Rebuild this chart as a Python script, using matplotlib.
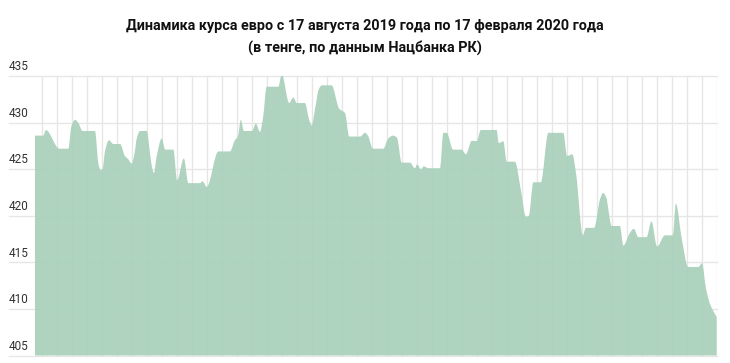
import numpy as np
import matplotlib
matplotlib.use("Agg")
import matplotlib.pyplot as plt
from matplotlib.path import Path
from matplotlib.patches import PathPatch
from matplotlib.transforms import blended_transform_factory

plt.rcParams['font.family'] = ['Roboto', 'DejaVu Sans']

title_lines = ["Динамика курса евро с 17 августа 2019 года по 17 февраля 2020 года",
               "(в тенге, по данным Нацбанка РК)"]

# day offset from 17 Aug 2019 (chart units) and EUR/KZT rate
day = [0, 2.2, 2.9, 6.5, 8.9, 9.7, 10.7, 11.5, 12.7, 16.0, 16.9, 17.5, 18.0, 18.7, 19.7,
       20.9, 22.7, 24.0, 24.8, 25.8, 26.5, 27.2, 28.0, 29.8, 30.5, 31.2, 31.7, 32.5, 33.8,
       34.7, 36.9, 37.9, 39.7, 40.9, 44.0, 44.7, 45.8, 48.9, 52.0, 53.3, 54.1, 54.9, 55.7,
       57.9, 58.9, 60.0, 60.8, 61.8, 64.9, 65.8, 67.8, 68.9, 69.8, 72.0, 73.1, 73.8, 74.7,
       75.7, 76.5, 79.1, 81.1, 82.7, 83.8, 86.7, 88.0, 88.8, 90.1, 92.9, 94.2, 95.5, 96.5,
       97.8, 100.0, 101.3, 101.9, 102.9, 103.7, 104.9, 108.0, 108.9, 109.8, 111.5, 113.8,
       114.9, 116.5, 117.8, 118.9, 123.1, 123.7, 124.9, 125.8, 128.0, 129.6, 130.9, 131.7,
       132.9, 134.9, 136.9, 140.9, 141.9, 143.3, 144.3, 146.1, 146.9, 149.1, 150.7, 151.5,
       152.3, 153.8, 156.0, 156.9, 158.7, 159.7, 160.9, 163.1, 164.4, 165.9, 168.0, 170.1,
       170.9, 172.5, 174.2, 176.9, 177.9, 178.9, 180.0, 181.8]
rate = [428.6, 428.6, 429.2, 427.2, 427.2, 429.6, 430.3, 430.0, 429.1, 429.1, 425.6, 424.9,
        425.0, 427.0, 428.1, 427.7, 427.7, 426.4, 426.1, 425.6, 426.6, 428.4, 429.1, 429.1,
        427.3, 425.2, 424.6, 426.5, 428.3, 427.1, 427.1, 423.8, 426.15, 423.5, 423.5, 423.7,
        423.1, 426.9, 426.9, 428.1, 428.5, 430.3, 429.1, 429.1, 429.9, 429.0, 430.5, 433.85,
        433.85, 435.2, 432.1, 432.7, 432.1, 432.1, 430.3, 429.7, 431.5, 433.6, 434.0, 434.0,
        431.5, 431.0, 428.5, 428.5, 428.9, 428.6, 427.2, 427.2, 428.3, 428.6, 428.4, 425.7,
        425.7, 425.1, 425.5, 425.0, 425.3, 425.1, 425.1, 428.9, 428.9, 427.1, 427.1, 426.6,
        428.05, 428.0, 429.2, 429.2, 427.8, 428.0, 425.8, 425.8, 422.7, 419.9, 420.0, 423.6,
        423.6, 428.9, 428.9, 426.4, 426.6, 424.5, 417.9, 418.7, 418.7, 421.8, 422.45, 422.0,
        418.9, 418.9, 416.8, 418.2, 418.6, 417.7, 417.7, 419.4, 416.7, 417.9, 417.9, 421.3,
        417.5, 414.5, 414.5, 414.9, 412.3, 410.55, 409.1]
y_ticks = [405, 410, 415, 420, 425, 430, 435]

x = np.array(day, dtype=float)
y = np.array(rate, dtype=float)
ymin, ymax = y_ticks[0], y_ticks[-1]

# monotone cubic (Fritsch-Carlson) tangents for smooth rendering of the line
h = np.diff(x)
d = np.diff(y) / h
m = np.zeros_like(y)
m[0], m[-1] = d[0], d[-1]
for i in range(1, len(y) - 1):
    if d[i - 1] * d[i] <= 0:
        m[i] = 0.0
    else:
        w1 = 2 * h[i] + h[i - 1]
        w2 = h[i] + 2 * h[i - 1]
        m[i] = (w1 + w2) / (w1 / d[i - 1] + w2 / d[i])

verts = [(x[0], ymin), (x[0], y[0])]
codes = [Path.MOVETO, Path.LINETO]
for i in range(len(x) - 1):
    verts += [(x[i] + h[i] / 3, y[i] + m[i] * h[i] / 3),
              (x[i + 1] - h[i] / 3, y[i + 1] - m[i + 1] * h[i] / 3),
              (x[i + 1], y[i + 1])]
    codes += [Path.CURVE4] * 3
verts += [(x[-1], ymin), (x[0], ymin)]
codes += [Path.LINETO, Path.CLOSEPOLY]

fig = plt.figure(figsize=(7.3, 3.63), dpi=100)
ax = fig.add_axes([35 / 730, 1 - 355.5 / 363, 681.7 / 730, (355.5 - 76) / 363])
ax.set_xlim(x[0], x[-1])
ax.set_ylim(ymin, ymax)
for s in ax.spines.values():
    s.set_visible(False)
ax.set_xticks([])
ax.set_yticks([])

ax.add_patch(PathPatch(Path(verts, codes), facecolor=(0.651, 0.812, 0.722, 0.9),
                       edgecolor='none', zorder=3))

grid_col = '#e6e6e6'
for gx in np.arange(x[-1], x[0], -4.0):
    ax.axvline(gx, color=grid_col, lw=1, zorder=1)

trans = blended_transform_factory(ax.transAxes, ax.transData)
x_left = (9 - 35) / 681.7
for v in y_ticks:
    ax.plot([x_left, 1], [v, v], color=grid_col, lw=1, transform=trans, clip_on=False, zorder=1)
    ax.text(x_left, v + 0.3, str(v), transform=trans, ha='left', va='bottom',
            fontsize=8.5, color='#333333')

fig.text(0.5, 1 - 26 / 363, title_lines[0], ha='center', va='center',
         fontsize=10.4, fontweight='bold', color='#111111')
fig.text(0.5, 1 - 48 / 363, title_lines[1], ha='center', va='center',
         fontsize=10.4, fontweight='bold', color='#111111')

fig.savefig('out.png', dpi=100)
